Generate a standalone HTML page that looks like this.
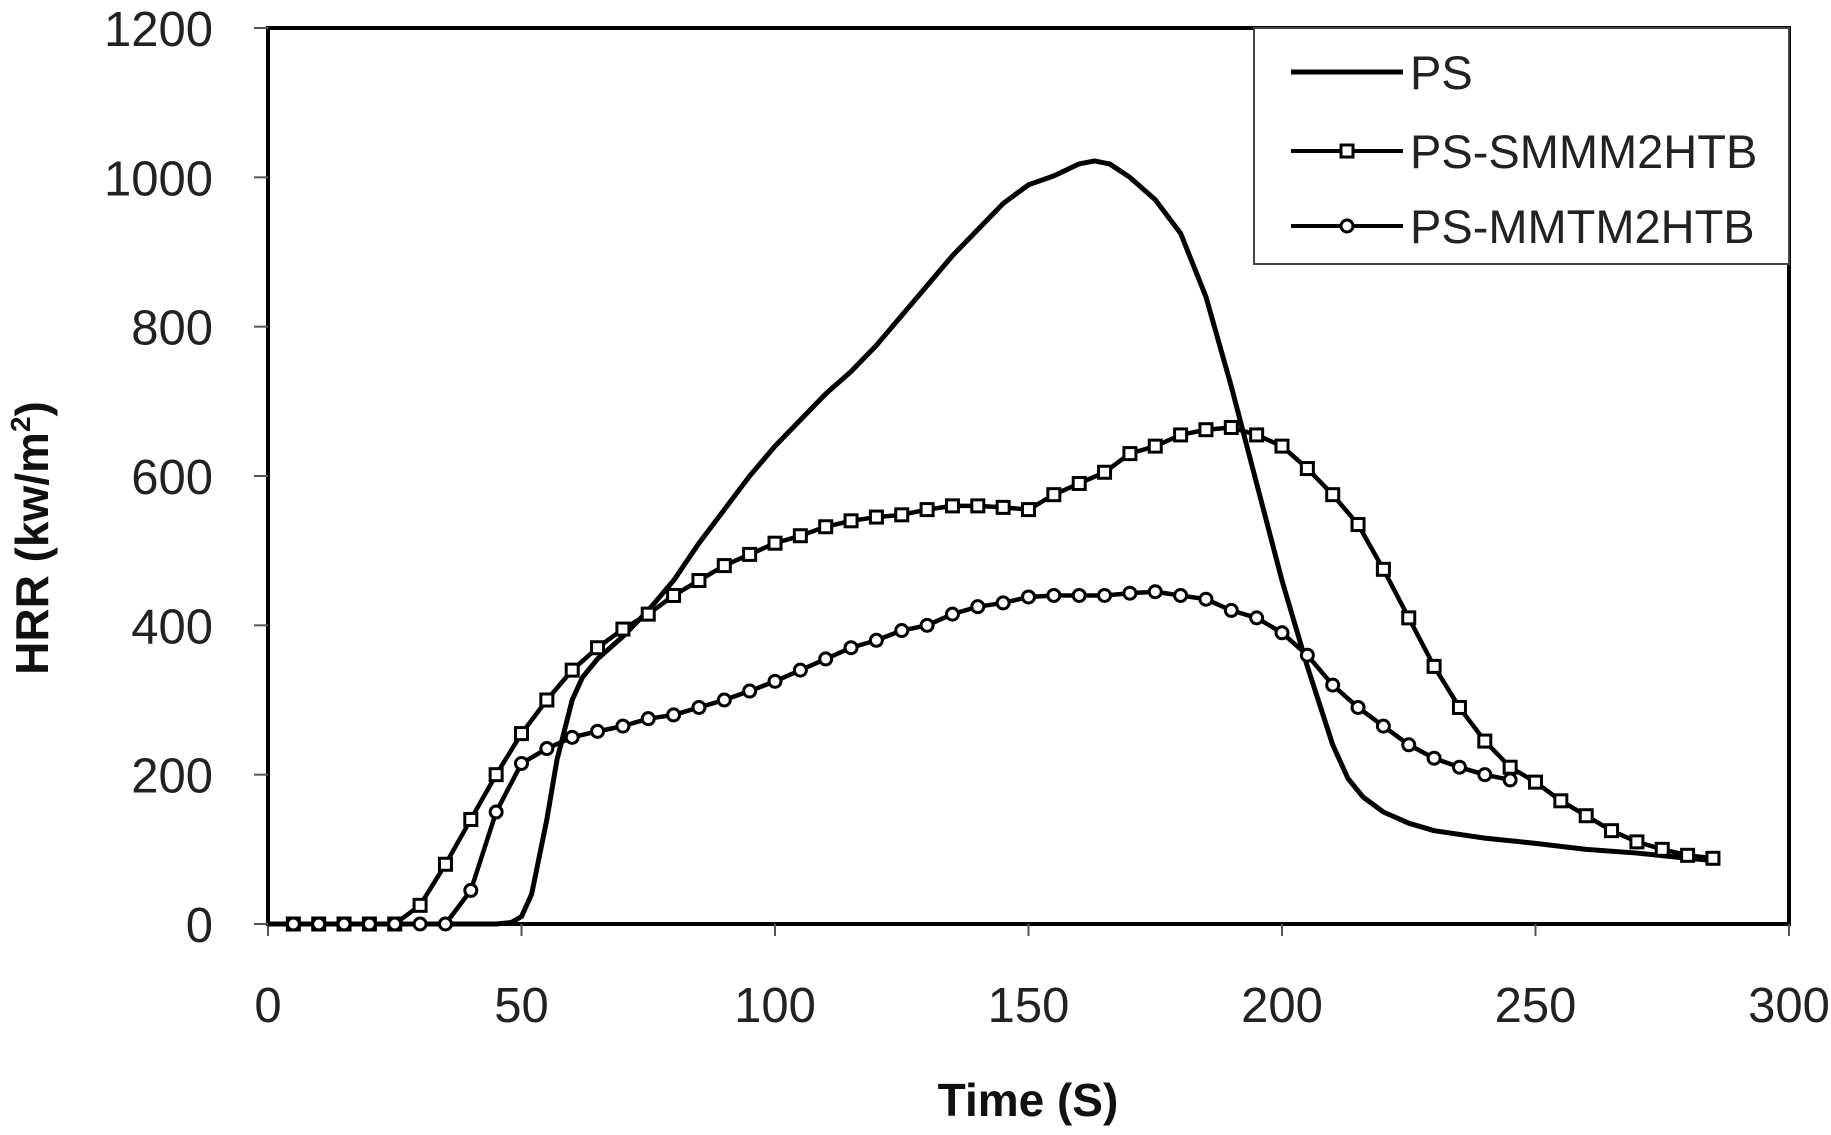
<!DOCTYPE html>
<html><head><meta charset="utf-8"><style>
html,body{margin:0;padding:0;background:#fff;}
svg{display:block;font-family:"Liberation Sans",sans-serif;}
</style></head><body>
<svg id="chart" width="1831" height="1135" viewBox="0 0 1831 1135">
<g id="axes"></g><g id="series"></g><g id="legend"></g>
</svg>
<script>
const xTicks=[0,50,100,150,200,250,300];
const yTicks=[0,200,400,600,800,1000,1200];
const psTime=[0,45,48,50,52,55,57,60,62,65,70,75,80,85,90,95,100,105,110,115,120,125,130,135,140,145,150,155,160,163,166,170,175,180,185,190,195,200,205,210,213,216,220,225,230,240,250,260,270,280,285];
const psHRR=[0,0,2,10,40,140,220,300,330,355,385,420,460,510,555,600,640,675,710,740,775,815,855,895,930,965,990,1002,1018,1022,1018,1000,970,925,840,720,590,460,345,240,195,170,150,135,125,115,108,100,95,88,85];
const smTime=[5,10,15,20,25,30,35,40,45,50,55,60,65,70,75,80,85,90,95,100,105,110,115,120,125,130,135,140,145,150,155,160,165,170,175,180,185,190,195,200,205,210,215,220,225,230,235,240,245,250,255,260,265,270,275,280,285];
const smHRR=[0,0,0,0,0,25,80,140,200,255,300,340,370,395,415,440,460,480,495,510,520,532,540,545,548,555,560,560,558,555,575,590,605,630,640,655,662,665,655,640,610,575,535,475,410,345,290,245,210,190,165,145,125,110,100,92,88];
const mmTime=[5,10,15,20,25,30,35,40,45,50,55,60,65,70,75,80,85,90,95,100,105,110,115,120,125,130,135,140,145,150,155,160,165,170,175,180,185,190,195,200,205,210,215,220,225,230,235,240,245];
const mmHRR=[0,0,0,0,0,0,0,45,150,215,235,250,258,265,275,280,290,300,312,325,340,355,370,380,393,400,415,425,430,438,440,440,440,443,445,440,435,420,410,390,360,320,290,265,240,222,210,200,193];
const L=268,R=1789,T=28,B=924;
const sx=v=>L+(v-0)/300*(R-L);
const sy=v=>B-(v/1200)*(B-T);
const NS='http://www.w3.org/2000/svg';
function mk(tag,attrs,parent){const e=document.createElementNS(NS,tag);for(const k in attrs)e.setAttribute(k,attrs[k]);parent.appendChild(e);return e;}
const axes=document.getElementById('axes');
const frame=mk('rect',{x:L,y:T,width:R-L,height:B-T,fill:'none',stroke:'#000','stroke-width':4},axes);


xTicks.forEach(t=>{
  const ln=mk('line',{x1:sx(t),x2:sx(t),y1:B,y2:B+12,stroke:'#555','stroke-width':2},axes);
  
  
  const tx=mk('text',{x:sx(t),y:1022,'text-anchor':'middle','font-size':49,fill:'#222'},axes);
  tx.textContent=t;
  
  
});
yTicks.forEach(t=>{
  const ln=mk('line',{x1:L-14,x2:L,y1:sy(t),y2:sy(t),stroke:'#555','stroke-width':2},axes);
  
  
  const tx=mk('text',{x:213,y:sy(t)+18,'text-anchor':'end','font-size':49,fill:'#222'},axes);
  tx.textContent=t;
  
  
});
const xt=mk('text',{x:1028,y:1116,'text-anchor':'middle','font-size':46,'font-weight':'bold',fill:'#111'},axes);
xt.textContent='Time (S)';


const yt=mk('text',{x:0,y:0,'text-anchor':'middle','font-size':46,'font-weight':'bold',fill:'#111',transform:'translate(48,538) rotate(-90)'},axes);
yt.innerHTML='HRR (kw/m<tspan font-size="28" dy="-18">2</tspan><tspan dy="18">)</tspan>';


const ser=document.getElementById('series');
function line(ts,vs,name,w){
  const p=mk('polyline',{points:ts.map((t,i)=>sx(t)+','+sy(vs[i])).join(' '),fill:'none',stroke:'#000','stroke-width':w,'stroke-linejoin':'round'},ser);
  
  
}
line(psTime,psHRR,'ps-line',5);
line(smTime,smHRR,'ps-smmm2htb-line',4.5);
line(mmTime,mmHRR,'ps-mmtm2htb-line',4.5);
smTime.forEach((t,i)=>{
  const r=mk('rect',{x:sx(t)-6,y:sy(smHRR[i])-6,width:12,height:12,fill:'#fff',stroke:'#000','stroke-width':3},ser);
  
  
});
mmTime.forEach((t,i)=>{
  const c=mk('circle',{cx:sx(t),cy:sy(mmHRR[i]),r:6,fill:'#fff',stroke:'#000','stroke-width':3},ser);
  
  
});
const lg=document.getElementById('legend');
const box=mk('rect',{x:1254,y:28,width:535,height:236,fill:'#fff',stroke:'#444','stroke-width':2},lg);


[['PS',72,'none'],['PS-SMMM2HTB',151,'sq'],['PS-MMTM2HTB',226,'ci']].forEach(([lab,y,m])=>{
  const g=mk('g',{},lg);
  
  
  mk('line',{x1:1291,x2:1403,y1:y,y2:y,stroke:'#000','stroke-width':m==='none'?5:4},g);
  if(m==='sq')mk('rect',{x:1341,y:y-6,width:12,height:12,fill:'#fff',stroke:'#000','stroke-width':3},g);
  if(m==='ci')mk('circle',{cx:1347,cy:y,r:6,fill:'#fff',stroke:'#000','stroke-width':3},g);
  const tx=mk('text',{x:1410,y:y+17,'font-size':47,fill:'#222'},g);
  tx.textContent=lab;
});
</script>
</body></html>
